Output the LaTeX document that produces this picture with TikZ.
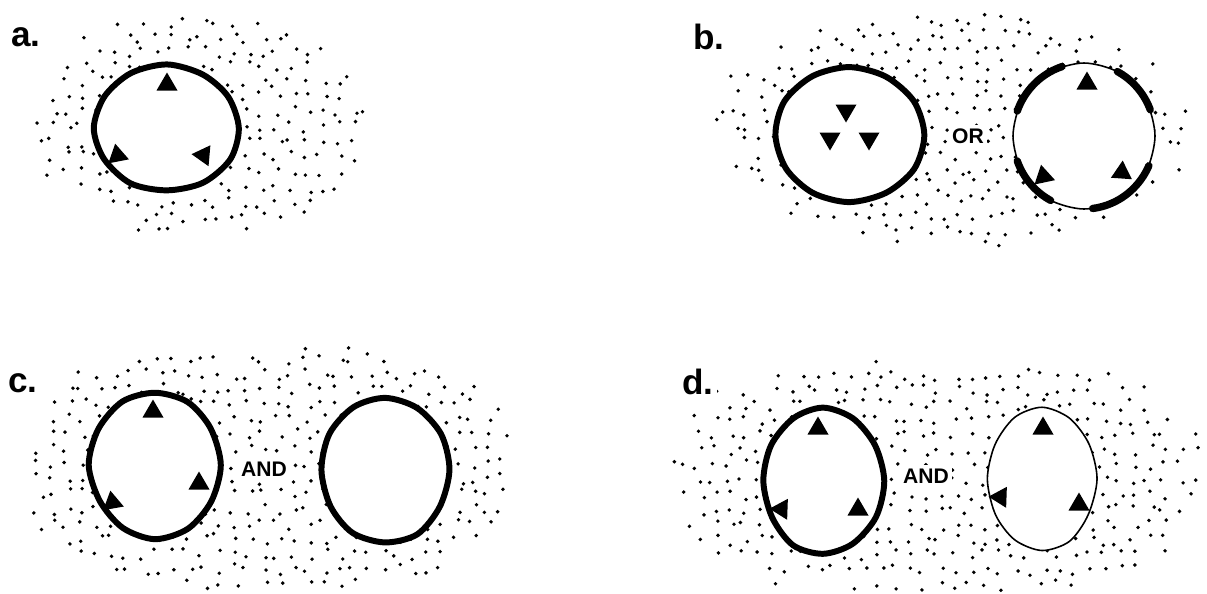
\documentclass[tikz,border=0pt]{standalone}
\usepackage{fontspec}
\setmainfont{Liberation Sans}
\usepackage{tikz}

% stipple: cx, cy, rx, ry, power
\newcommand{\stipple}[5]{%
  \pgfmathsetmacro\sxa{#1-#3}\pgfmathsetmacro\sxb{#1-#3+15}\pgfmathsetmacro\sxc{#1+#3}%
  \pgfmathsetmacro\sya{#2-#4}\pgfmathsetmacro\syb{#2-#4+15}\pgfmathsetmacro\syc{#2+#4}%
  \foreach \gx in {\sxa,\sxb,...,\sxc}{%
    \foreach \gy in {\sya,\syb,...,\syc}{%
      \pgfmathsetmacro\px{\gx+5.5*rand}%
      \pgfmathsetmacro\py{\gy+5.5*rand}%
      \pgfmathtruncatemacro\ok{(abs(\px-#1)/#3)^#5+(abs(\py-#2)/#4)^#5<1-0.3*rnd}%
      \ifnum\ok=1 \fill (\px,\py) circle (1.1pt);\fi
    }}}
% ring: cx, cy, rx, ry, wobble, style
\newcommand{\ring}[6]{%
  \draw[#6,fill=white] plot[smooth cycle,domain=0:330,samples=12,variable=\t]
    ({#1+#3*cos(\t)*(1+#5*rand)},{#2+#4*sin(\t)*(1+#5*rand)});}
% triangle: x, y, rotation
\newcommand{\tri}[3]{\fill[shift={(#1,#2)},rotate=#3] (0,-9.5) -- (-10.5,8.5) -- (10.5,8.5) -- cycle;}

\begin{document}
\begin{tikzpicture}[x=0.02cm,y=-0.02cm,
    heavy/.style={line width=3.4pt,line join=round},
    light/.style={line width=0.9pt,line join=round},
    band/.style={line width=4.2pt,line cap=round},
    lbl/.style={font=\bfseries\fontsize{20}{20}\selectfont,fill=white,inner sep=2pt},
    word/.style={font=\bfseries\fontsize{12}{12}\selectfont,fill=white,inner sep=2pt}]
  \useasboundingbox (0,0) rectangle (1207,593);
  \pgfmathsetseed{7}

  % dotted grounds
  \stipple{200}{125}{178}{118}{2}
  \stipple{953}{128}{250}{123}{2}
  \stipple{268}{468}{245}{124}{3}
  \stipple{937}{478}{268}{118}{3}

  % a.
  \node[lbl] (la) at (26,37) {a.};
  \ring{167}{128}{72}{63}{0.02}{heavy}
  \tri{167}{82}{0}
  \tri{117}{153}{11}
  \tri{201}{155}{85}

  % b.
  \node[lbl] (lb) at (709,37) {b.};
  \ring{849}{135}{74}{67}{0.02}{heavy}
  \tri{846}{113}{180}
  \tri{830}{141}{180}
  \tri{869}{141}{180}
  \node[word] (orb) at (968,136) {OR};
  \ring{1084}{136}{71}{73}{0}{light}
  \draw[band] plot[domain=-160:-108,samples=20,variable=\t] ({1084+71*cos(\t)},{136+73*sin(\t)});
  \draw[band] plot[domain=-62:-21,samples=20,variable=\t] ({1084+71*cos(\t)},{136+73*sin(\t)});
  \draw[band] plot[domain=160:118,samples=20,variable=\t] ({1084+71*cos(\t)},{136+73*sin(\t)});
  \draw[band] plot[domain=24:83,samples=20,variable=\t] ({1084+71*cos(\t)},{136+73*sin(\t)});
  \tri{1087}{81}{0}
  \tri{1043}{174}{12}
  \tri{1122}{170}{-4}

  % c.
  \node[lbl] (lc) at (23,383) {c.};
  \ring{155}{465}{65}{73}{0.02}{heavy}
  \tri{153}{409}{0}
  \tri{199}{481}{0}
  \tri{112}{500}{10}
  \node[word] (andc) at (264,469) {AND};
  \ring{385}{470}{64}{73}{0.02}{heavy}

  % d.
  \node[lbl] (ld) at (698,382) {d.};
  \ring{823}{481}{60}{73}{0.025}{heavy}
  \tri{818}{426}{0}
  \tri{779}{509}{88}
  \tri{858}{507}{0}
  \node[word] (andd) at (926,476) {AND};
  \ring{1042}{479}{54}{71}{0.02}{light}
  \tri{1043}{426}{0}
  \tri{998}{497}{88}
  \tri{1079}{502}{0}
\end{tikzpicture}
\end{document}
